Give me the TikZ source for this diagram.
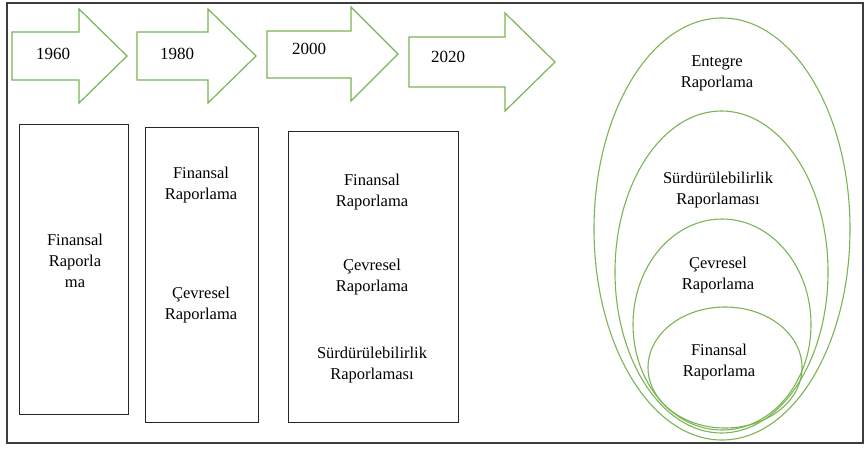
\documentclass[tikz,border=0pt]{standalone}
\usepackage{fontspec}
\setmainfont{Liberation Serif}
\usetikzlibrary{shapes.geometric}
\definecolor{leafgreen}{RGB}{122,180,84}
\definecolor{framegray}{RGB}{60,60,60}
\tikzset{
  yeararrow/.style={draw=leafgreen, line width=1.2pt, line join=miter, fill=white},
  yearlabel/.style={font=\fontsize{17}{20}\selectfont, inner sep=0pt},
  stagebox/.style={draw=black!85, line width=1.1pt, rectangle, inner sep=0pt},
  lbl/.style={font=\fontsize{16.5}{21}\selectfont, align=center, inner sep=0pt},
  ring/.style={ellipse, draw=leafgreen, line width=1.1pt, inner sep=0pt}
}
\begin{document}
\begin{tikzpicture}[x=1pt,y=-1pt]
\useasboundingbox (0,0) rectangle (866,449);
% outer frame
\draw[framegray, line width=1.4pt] (7,3) rectangle (863,443);

% timeline arrows
\draw[yeararrow] (12,32) -- (79,32) -- (79,9) -- (127,56) -- (79,103) -- (79,80) -- (12,80) -- cycle;
\draw[yeararrow] (137,32) -- (208,32) -- (208,9) -- (256,56) -- (208,103) -- (208,80) -- (137,80) -- cycle;
\draw[yeararrow] (267,31) -- (351,31) -- (351,7) -- (398,54) -- (351,101) -- (351,78) -- (267,78) -- cycle;
\draw[yeararrow] (409,37) -- (505,37) -- (505,13) -- (555,62) -- (505,111) -- (505,87) -- (409,87) -- cycle;
\node[yearlabel] (y1960) at (53,54) {1960};
\node[yearlabel] (y1980) at (177,54) {1980};
\node[yearlabel] (y2000) at (309,49) {2000};
\node[yearlabel] (y2020) at (448,57) {2020};

% stage boxes
\node[stagebox, minimum width=109pt, minimum height=290pt, anchor=north west] (b1) at (19,124) {};
\node[stagebox, minimum width=113pt, minimum height=295pt, anchor=north west] (b2) at (145,127) {};
\node[stagebox, minimum width=170pt, minimum height=291pt, anchor=north west] (b3) at (288,131) {};

\node[lbl] (b1a) at (75,261) {Finansal\\Raporla\\ma};
\node[lbl] (b2a) at (201,185) {Finansal\\Raporlama};
\node[lbl] (b2b) at (201,305) {Çevresel\\Raporlama};
\node[lbl] (b3a) at (372,192) {Finansal\\Raporlama};
\node[lbl] (b3b) at (372,277) {Çevresel\\Raporlama};
\node[lbl] (b3c) at (372,365) {Sürdürülebilirlik\\Raporlaması};

% nested reporting scopes
\node[ring, minimum width=256pt, minimum height=422pt] (e1) at (722,229) {};
\node[ring, minimum width=213pt, minimum height=322pt] (e2) at (721.5,272) {};
\node[ring, minimum width=178pt, minimum height=211pt] (e3) at (722,324.5) {};
\node[ring, minimum width=154pt, minimum height=121pt] (e4) at (725,367.5) {};

\node[lbl] (e1t) at (717,73) {Entegre\\Raporlama};
\node[lbl] (e2t) at (718,190) {Sürdürülebilirlik\\Raporlaması};
\node[lbl] (e3t) at (718,275) {Çevresel\\Raporlama};
\node[lbl] (e4t) at (719,362) {Finansal\\Raporlama};
\end{tikzpicture}
\end{document}
